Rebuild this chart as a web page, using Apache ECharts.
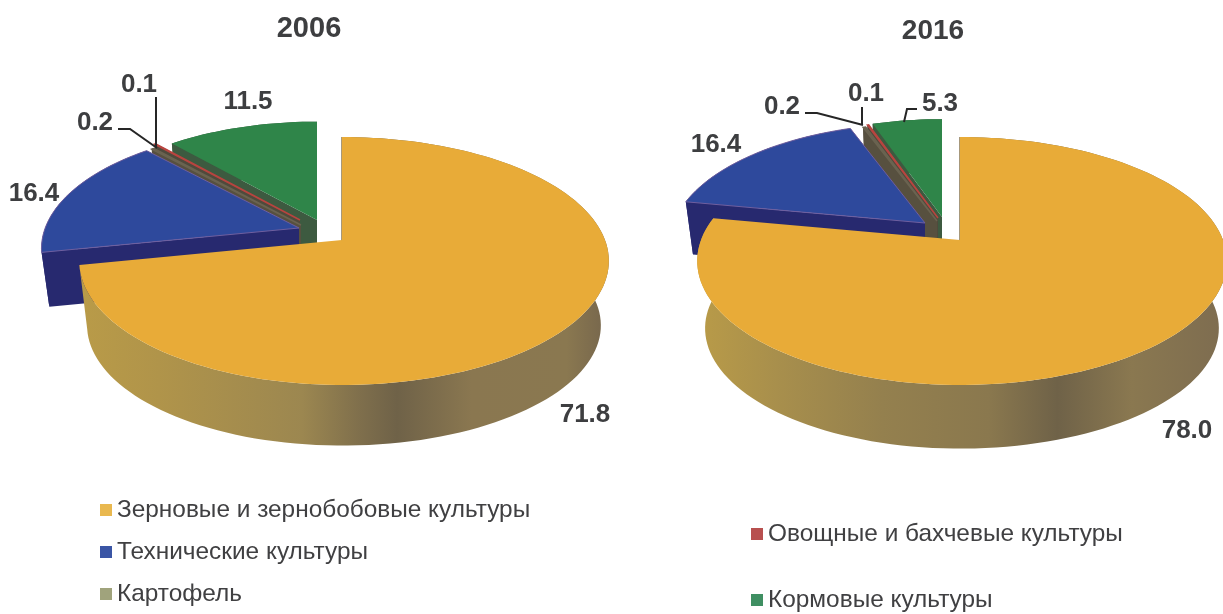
<!DOCTYPE html>
<html><head><meta charset="utf-8">
<script src="https://cdn.jsdelivr.net/npm/echarts@6/dist/echarts.min.js"></script>
<style>html,body{margin:0;padding:0;background:#fff}#c{width:1223px;height:614px}</style>
</head><body><div id="c"></div>
<script>
// ---- data ----
const categories = ['Зерновые и зернобобовые культуры','Технические культуры','Картофель','Овощные и бахчевые культуры','Кормовые культуры'];
const years = ['2006','2016'];
const values2006 = [71.8,16.4,0.2,0.1,11.5];
const values2016 = [78.0,16.4,0.2,0.1,5.3];

// ---- styles ----
const topColors = ['#e8ab38','#2e499c','#6a6350','#b8443f','#2f8549'];
const wallColors = ['#8a7750','#27296f','#57503f','#4f4a3c','#3d5a40'];
const legendColors = ['#e9b84f','#3a55a5','#a0a37c','#b8504f','#3f8f62'];
const edgeColors = ['#e8ab38','#6f5f9f','#6a6350','#b8443f','#2f8549'];
const edgeWidths = [0,1,1.5,1.5,0];
const FONT = 'Liberation Sans';
const drawOrder = [4,3,2,1,0];

// ---- perspective layout of each pie ----
const persp = {k:.1693, sy:120.4, sxL:259, sxR:263, bottomScale:.97};
const layouts = [
  {apex:[[342,240],[299,228],[301,225],[300,220],[317,220]],
   scale:[1,.98,.96,.95,.955], depth:[65,55,50,50,50],
   labels:[[585,415],[34,194],[95,123],[139,85],[248,102]],
   leaders:[null,null,[[118,129],[130,129],[157,148]],[[156,97],[156,147]],null],
   wall:[[0,'#b99b48'],[.15,'#b0944a'],[.42,'#9c8750'],[.53,'#7f6f4c'],[.6,'#6f6248'],[.74,'#8a7750'],[.92,'#8a7850'],[1,'#75654c']],
   legend:[[100,510],[100,552],[100,594]]},
  {apex:[[960,240],[925,223],[937,221],[938,218],[942,217]],
   scale:[1,.97,.96,.95,.95], depth:[68,52,50,50,50],
   labels:[[1187,431],[716,145],[782,107],[866,94],[940,104]],
   leaders:[null,null,[[805,113],[817,113],[863,125]],[[862,107],[862,125]],[[917,109],[907,109],[904,122]]],
   wall:[[0,'#b99b48'],[.15,'#a88f4c'],[.35,'#94804e'],[.55,'#8a784e'],[.68,'#6f6248'],[.82,'#8a7850'],[1,'#7d6c50']],
   legend:[null,null,null,[751,534],[751,600]]}
];

function point(theta,lay,i,bottom){
  const u=Math.sin(theta), v=-Math.cos(theta), w=1-persp.k*v;
  const sx=u<0?persp.sxL:persp.sxR;
  const sc=lay.scale[i]*(bottom?persp.bottomScale:1);
  return [lay.apex[i][0]+sx*u/w*sc, lay.apex[i][1]+persp.sy*v/w*sc+(bottom?lay.depth[i]:0)];
}
function makeRender(values,lay,i){
  const total=values.reduce((a,b)=>a+b,0);
  const before=values.slice(0,i).reduce((a,b)=>a+b,0);
  return function(params,api){
    const val=api.value(0);
    const a0=before/total*2*Math.PI, a1=(before+val)/total*2*Math.PI;
    const n=Math.max(2,Math.ceil((a1-a0)/(Math.PI/90)));
    const top=[],bot=[];
    for(let j=0;j<=n;j++){const t=a0+(a1-a0)*j/n;top.push(point(t,lay,i,false));bot.push(point(t,lay,i,true));}
    const C=p=>api.coord(p);
    const ap=lay.apex[i], apB=[ap[0],ap[1]+lay.depth[i]];
    const wallFill=i===0?new echarts.graphic.LinearGradient(0,0,1,0,lay.wall.map(s=>({offset:s[0],color:s[1]}))):wallColors[i];
    const kids=[];
    const poly=(pts,style)=>kids.push({type:'polygon',shape:{points:pts.map(C)},style:style});
    poly(top.concat(bot.slice().reverse()),{fill:wallFill});
    if(i!==0)poly([ap,top[top.length-1],bot[bot.length-1],apB],{fill:wallColors[i]});
    poly([ap,top[0],bot[0],apB],{fill:wallColors[i],stroke:wallColors[i],lineWidth:i===0?1.5:0});
    poly([ap].concat(top),{fill:topColors[i],stroke:edgeColors[i],lineWidth:edgeWidths[i]});
    const lead=lay.leaders[i];
    if(lead)kids.push({type:'polyline',shape:{points:lead.map(C)},style:{fill:'none',stroke:'#262626',lineWidth:2}});
    const lp=C(lay.labels[i]);
    kids.push({type:'text',x:lp[0],y:lp[1],style:{text:val.toFixed(1),fontFamily:FONT,fontWeight:'bold',fontSize:26,fill:'#3d3e40',align:'center',verticalAlign:'middle'}});
    return {type:'group',children:kids};
  };
}
const series=[];
[values2006,values2016].forEach((vals,p)=>{
  drawOrder.forEach(i=>{
    series.push({type:'custom',name:categories[i],coordinateSystem:'cartesian2d',silent:true,clip:false,
      itemStyle:{color:legendColors[i]},data:[[vals[i]]],renderItem:makeRender(vals,layouts[p],i)});
  });
});
const legends=[];
layouts.forEach(lay=>lay.legend.forEach((pos,i)=>{
  if(!pos)return;
  legends.push({orient:'vertical',left:pos[0],top:pos[1]-15,padding:0,height:30,itemWidth:12,itemHeight:12,icon:'rect',selectedMode:false,
    textStyle:{fontFamily:FONT,fontSize:24.4,color:'#404042',lineHeight:30},
    data:[{name:categories[i],itemStyle:{color:legendColors[i]}}]});
}));
const chart=echarts.init(document.getElementById('c'),null,{renderer:'canvas'});
chart.setOption({
  animation:false,backgroundColor:'#ffffff',
  title:[
    {text:years[0],left:309,top:14,padding:0,textAlign:'center',textStyle:{fontFamily:FONT,fontWeight:'bold',fontSize:29,color:'#3d3e40'}},
    {text:years[1],left:933,top:17,padding:0,textAlign:'center',textStyle:{fontFamily:FONT,fontWeight:'bold',fontSize:28,color:'#3d3e40'}}
  ],
  grid:{left:0,right:0,top:0,bottom:0},
  xAxis:{type:'value',min:0,max:1223,show:false},
  yAxis:{type:'value',min:0,max:614,inverse:true,show:false},
  legend:legends,
  series:series
});
</script></body></html>
